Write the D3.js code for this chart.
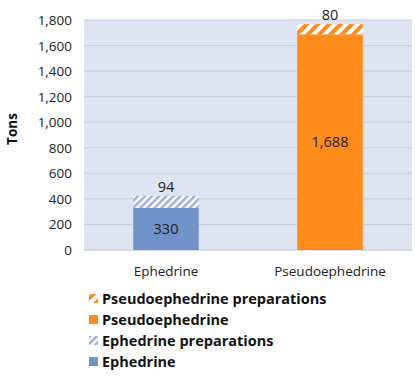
<!DOCTYPE html>
<html><head><meta charset="utf-8">
<script src="https://cdn.jsdelivr.net/npm/d3@7"></script>
<style>body{margin:0;background:#fff}svg{display:block}text{font-family:"Open Sans","Noto Sans",sans-serif}</style>
</head><body><svg id="c" width="415" height="377"></svg>
<script>
const categories = ["Ephedrine", "Pseudoephedrine"];
const baseValues = [330, 1688];
const prepValues = [94, 80];
const yTicks = [0, 200, 400, 600, 800, 1000, 1200, 1400, 1600, 1800];
const legendLabels = ["Pseudoephedrine preparations", "Pseudoephedrine", "Ephedrine preparations", "Ephedrine"];

const baseColors = ["#7093c9", "#ff8c1a"];
const svg = d3.select("#c");
const m = {l: 84, r: 412, t: 20, b: 250};
const x = d3.scaleBand().domain(categories).range([m.l, m.r]).paddingInner(0.6).paddingOuter(0.3);
const y = d3.scaleLinear().domain([0, 1800]).range([m.b, m.t]);

const defs = svg.append("defs");
function hatch(id, size, bg, fg) {
  const p = defs.append("pattern").attr("id", id).attr("patternUnits", "userSpaceOnUse")
    .attr("width", size).attr("height", size).attr("patternTransform", "rotate(45)");
  p.append("rect").attr("width", size).attr("height", size).attr("fill", bg);
  p.append("rect").attr("width", size / 2).attr("height", size).attr("fill", fg);
}
hatch("hE", 5, "#ffffff", "#9ab0da");
hatch("hP", 8, "#ffffff", "#ff8c1a");

svg.append("rect").attr("x", m.l).attr("y", m.t).attr("width", m.r - m.l).attr("height", m.b - m.t).attr("fill", "#dfe4f3");

svg.append("g").selectAll("line").data(yTicks).join("line")
  .attr("x1", m.l).attr("x2", m.r).attr("y1", d => y(d)).attr("y2", d => y(d))
  .attr("stroke", d => d === 0 ? "#b8bfd0" : "#c6cde0").attr("stroke-width", 1);

svg.append("g").selectAll("text").data(yTicks).join("text")
  .attr("x", 72).attr("y", d => y(d) + 5).attr("text-anchor", "end")
  .attr("font-size", 13.5).attr("fill", "#222").text(d => d3.format(",")(d));

svg.append("text").attr("transform", "translate(17,129) rotate(-90)").attr("text-anchor", "middle")
  .attr("font-size", 13.5).attr("font-weight", "bold").attr("fill", "#111").text("Tons");

const g = svg.append("g");
categories.forEach((c, i) => {
  const bx = x(c), bw = x.bandwidth();
  g.append("rect").attr("x", bx).attr("width", bw).attr("y", y(baseValues[i])).attr("height", y(0) - y(baseValues[i])).attr("fill", baseColors[i]);
  const top = baseValues[i] + prepValues[i];
  g.append("rect").attr("x", bx).attr("width", bw).attr("y", y(top)).attr("height", y(baseValues[i]) - y(top)).attr("fill", i === 0 ? "url(#hE)" : "url(#hP)");
  g.append("text").attr("x", bx + bw / 2).attr("y", y(baseValues[i] / 2) + 5).attr("text-anchor", "middle")
    .attr("font-size", 14.5).attr("fill", "#222").text(d3.format(",")(baseValues[i]));
  g.append("text").attr("x", bx + bw / 2).attr("y", y(top) - 4).attr("text-anchor", "middle")
    .attr("font-size", 14.5).attr("fill", "#222").text(d3.format(",")(prepValues[i]));
  svg.append("text").attr("x", bx + bw / 2).attr("y", 276).attr("text-anchor", "middle")
    .attr("font-size", 13.5).attr("fill", "#222").text(c);
});

const legFills = ["url(#hP)", baseColors[1], "url(#hE)", baseColors[0]];
legendLabels.forEach((t, i) => {
  const ly = 299 + i * 21;
  svg.append("rect").attr("x", 89).attr("y", ly - 5).attr("width", 9).attr("height", 9).attr("fill", legFills[i]);
  svg.append("text").attr("x", 102).attr("y", ly + 5).attr("font-size", 14.5).attr("font-weight", "bold").attr("fill", "#111").text(t);
});
</script></body></html>
